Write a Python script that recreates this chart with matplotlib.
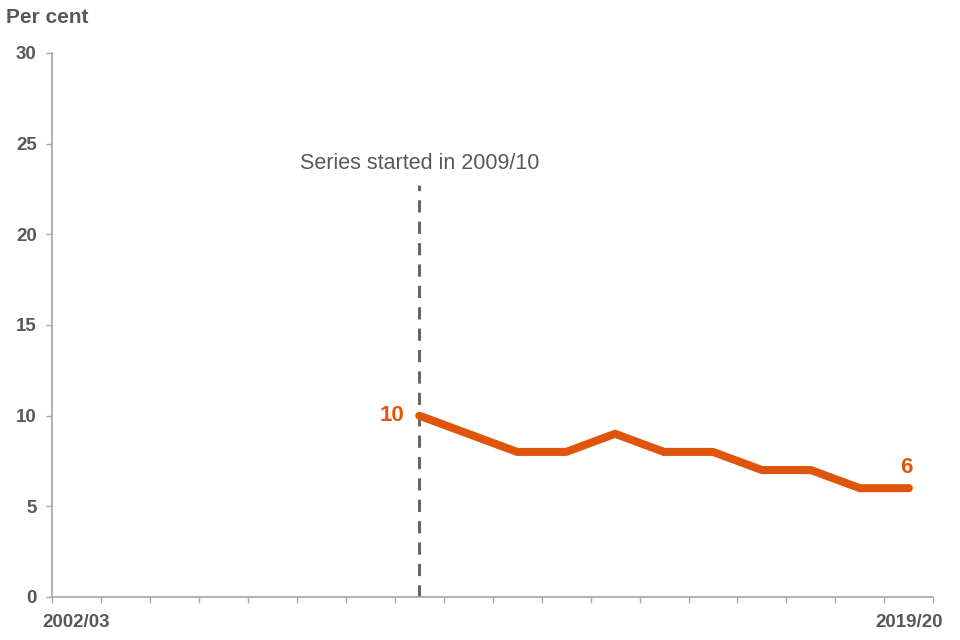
import matplotlib.pyplot as plt
import numpy as np

years = ['2002/03', '2003/04', '2004/05', '2005/06', '2006/07', '2007/08',
         '2008/09', '2009/10', '2010/11', '2011/12', '2012/13', '2013/14',
         '2014/15', '2015/16', '2016/17', '2017/18', '2018/19', '2019/20']
series_years = years[7:]
values = [10, 9, 8, 8, 9, 8, 8, 7, 7, 6, 6]
shown_labels = {'2002/03', '2019/20'}

grey = '#595959'
axis_grey = '#a6a6a6'
orange = '#e0550b'

plt.rcParams['font.family'] = ['Liberation Sans', 'DejaVu Sans']

fig = plt.figure(figsize=(9.6, 6.4), dpi=100)
ax = fig.add_axes([0.0542, 0.0672, 0.918, 0.850])

xpos = {y: i for i, y in enumerate(years)}
xs = [xpos[y] for y in series_years]
ax.plot(xs, values, color=orange, lw=5.8, solid_joinstyle='miter',
        solid_capstyle='round', zorder=3)

# start-of-series marker
start = xpos['2009/10']
ax.plot([start, start], [0, 22.7], color='#666666', lw=2.2, ls=(0, (4, 3)), zorder=2)
ax.text(start, 23.9, 'Series started in 2009/10', ha='center', va='center',
        color=grey, fontsize=15.5)

# value labels
ax.text(start - 0.3, values[0], str(values[0]), ha='right', va='center',
        color=orange, fontsize=16, fontweight='bold')
ax.text(xs[-1] - 0.05, values[-1] + 0.55, str(values[-1]), ha='center', va='bottom',
        color=orange, fontsize=16, fontweight='bold')

ax.set_xlim(-0.5, len(years) - 0.5)
ax.set_ylim(0, 30)
ax.set_yticks(range(0, 31, 5))
ax.set_xticks(range(len(years)))
ax.set_xticklabels([y if y in shown_labels else '' for y in years])
ax.set_xticks(np.arange(-0.5, len(years), 1), minor=True)

for s in ['top', 'right']:
    ax.spines[s].set_visible(False)
for s in ['left', 'bottom']:
    ax.spines[s].set_color(axis_grey)
    ax.spines[s].set_linewidth(1.2)

ax.tick_params(axis='x', which='major', length=0, pad=12, labelsize=13.5,
               labelcolor=grey)
ax.tick_params(axis='x', which='minor', length=4.5, color=axis_grey, width=1)
ax.tick_params(axis='y', length=4, color=axis_grey, width=1, labelsize=13.5,
               labelcolor=grey, pad=7)
for lab in ax.get_xticklabels() + ax.get_yticklabels():
    lab.set_fontweight('bold')

fig.text(0.006, 0.972, 'Per cent', ha='left', va='center', color=grey,
         fontsize=15, fontweight='bold')

fig.savefig('out.png', dpi=100)
